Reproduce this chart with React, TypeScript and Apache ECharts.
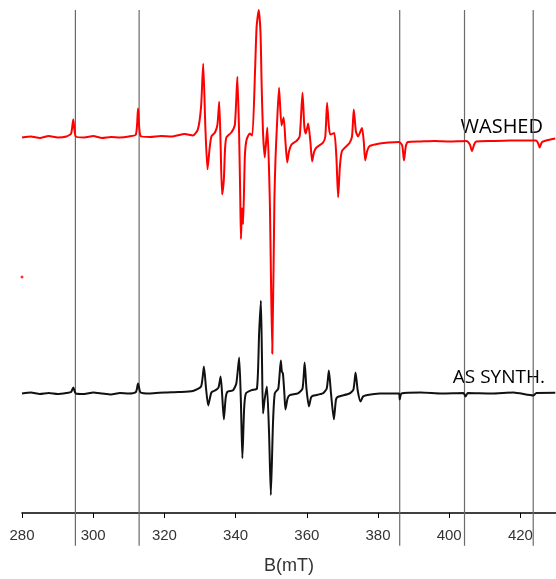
import React, { useEffect, useRef } from 'react';
import * as echarts from 'echarts';

// Magnetic field (mT) and signal (a.u.) of the WASHED sample
const washedField = [
  280.0, 282.5, 285.0, 287.5, 290.0, 292.5, 293.8, 294.4, 295.1, 297.5,
  300.0, 302.5, 305.0, 307.5, 310.0, 312.0, 312.6, 313.3, 316.0, 319.0,
  322.0, 325.7, 328.0, 329.4, 330.3, 330.9, 331.5, 332.1, 332.7, 333.2,
  334.2, 334.9, 335.4, 335.8, 336.2, 336.7, 337.0, 337.4, 338.8, 339.8,
  340.5, 341.0, 341.3, 341.5, 341.8, 342.1, 342.6, 343.1, 344.0, 344.7,
  345.5, 345.9, 346.5, 347.0, 347.3, 347.7, 348.2, 348.9, 349.6, 350.3,
  350.9, 351.2, 351.6, 352.2, 352.9, 353.5, 354.0, 354.5, 355.0, 355.7,
  357.1, 358.0, 358.8, 359.3, 359.7, 360.4, 361.0, 361.5, 362.0, 362.7,
  364.5, 365.2, 365.7, 366.2, 366.6, 367.7, 368.3, 368.8, 369.3, 369.9,
  372.0, 372.7, 373.2, 373.8, 374.4, 375.5, 376.0, 376.4, 377.0, 377.7,
  380.5, 383.0, 385.9, 386.8, 387.3, 387.8, 388.4, 392.0, 396.0, 400.0,
  404.8, 405.8, 406.4, 407.0, 407.6, 412.0, 418.0, 424.4, 425.0, 425.4,
  426.0, 426.8, 429.8,
];
const washedSignal = [
  -1, 0, -1.5, 0.5, -1, 0, 3, 17, 0, -1,
  0.5, -1.5, -0.5, -1, 0, 2, 28, 0.5, -0.5, 0.5,
  0, 2.5, 1, 7, 30, 73, 10, -33, -12, 0,
  4, 12, 35, -10, -58, -43, -15, -1, 4, 12,
  60, 0, -60, -103, -72, -88, -20, -3, 3, 1,
  70, 110, 127, 104, 54, 4, -21, 9, -63, -218,
  -63, -23, 10, 49, 11, 19, -5, -26, -15, -8,
  -4.5, 0, 44, 10, 3, 13, -5, -25, -16, -11,
  -6.5, 0, 34, 10, 2, 3.5, -20, -61, -30, -14.5,
  -6.5, 0, 27, 5, 0, 8.5, -5, -24, -14, -9.5,
  -7, -6, -5.5, -9, -24, -10, -5.5, -5, -4.5, -5,
  -4.5, -8, -14.5, -8, -5, -4.5, -4, -4, -7, -11,
  -6, -4.5, -2,
];

// Magnetic field (mT) and signal (a.u.) of the AS SYNTH. sample
const synthField = [
  280.0, 282.5, 285.0, 287.5, 290.0, 292.5, 293.8, 294.4, 295.1, 297.5,
  300.0, 302.5, 305.0, 307.5, 310.0, 312.0, 312.6, 313.3, 316.0, 320.0,
  324.0, 328.0, 330.3, 331.1, 331.7, 332.3, 333.2, 334.4, 335.2, 335.8,
  336.2, 336.7, 337.2, 337.7, 339.3, 340.2, 341.0, 341.5, 341.9, 342.4,
  342.9, 344.5, 346.0, 346.6, 347.1, 347.4, 347.7, 348.2, 348.8, 349.4,
  349.9, 350.5, 351.0, 352.0, 352.7, 353.0, 353.3, 353.7, 354.0, 354.6,
  355.2, 357.5, 358.8, 359.4, 359.9, 360.6, 361.2, 361.7, 364.5, 365.6,
  366.2, 366.8, 367.6, 368.2, 368.8, 372.0, 373.1, 373.7, 374.3, 375.1,
  375.8, 376.7, 380.5, 385.9, 386.1, 386.6, 392.0, 398.0, 404.0, 404.6,
  405.2, 412.0, 418.0, 423.7, 424.5, 429.8,
];
const synthSignal = [
  0, 1, -0.5, 0.5, -0.5, 0.5, 1.5, 6, 0, -0.5,
  1, 0, -1, 0.5, 0, 1.5, 10, 1, 0, 1,
  1.5, 2.5, 7, 27, 5, -12, 1, 3.3, 6, 17,
  0, -26, -5, 1.7, 3.3, 10, 36, -10, -65, -15,
  0, 3.3, 5, 60, 93, 37, -20, -5, 7, -40,
  -102, -30, 0, 5, 33, 22, 20, 0, -16, -5,
  -1.7, 0, 5, 31, 5, -13, -4, -2.3, 0, 5,
  23, 0, -26, -6, -3.3, 0, 4, 21, 3, -8,
  -3, -1.7, 0, 0, -6, 0, 1, 0, 0.5, -3,
  0.5, 0, 1, -2, 0.5, 0.7,
];

const washedOffset = 0;
const synthOffset = -258;
const markerFields = [295.0, 312.9, 386.1, 404.3, 423.6];
const strayPoint = [280, -141];
const xTicks = { min: 280, max: 430, step: 20 };

export default function App() {
  const ref = useRef<HTMLDivElement>(null);
  useEffect(() => {
    const chart = echarts.init(ref.current as HTMLDivElement, null, { renderer: 'svg' });
    const pairs = (xs: number[], ys: number[], off: number) => xs.map((x, i) => [x, ys[i] + off]);
    chart.setOption({
      animation: false,
      grid: { left: 22, right: 0, top: 10, bottom: 64 },
      xAxis: {
        type: 'value',
        min: xTicks.min,
        max: xTicks.max,
        interval: xTicks.step,
        axisLine: { onZero: false, lineStyle: { color: '#000', width: 1.5 } },
        axisTick: { length: 5, lineStyle: { color: '#000', width: 1 } },
        axisLabel: {
          margin: 14,
          fontSize: 15,
          color: '#333',
          fontFamily: 'Liberation Sans',
          showMaxLabel: false,
          formatter: (v: number) => (v % xTicks.step === 0 && v < xTicks.max ? String(v) : ''),
        },
        splitLine: { show: false },
        name: 'B(mT)',
        nameLocation: 'middle',
        nameGap: 43,
        nameTextStyle: { fontSize: 18, fontFamily: 'Liberation Sans', color: '#333' },
      },
      yAxis: { type: 'value', min: -378, max: 127, show: false },
      series: [
        ...markerFields.map((b) => ({
          type: 'line',
          data: [[b, -411], [b, 127]],
          clip: false,
          symbol: 'none',
          silent: true,
          lineStyle: { color: '#6a6a6a', width: 1.2 },
        })),
        {
          type: 'line',
          name: 'AS SYNTH.',
          data: pairs(synthField, synthSignal, synthOffset),
          symbol: 'none',
          smooth: 0.2,
          lineStyle: { color: '#111', width: 2 },
        },
        {
          type: 'line',
          name: 'WASHED',
          data: pairs(washedField, washedSignal, washedOffset),
          symbol: 'none',
          smooth: 0.2,
          lineStyle: { color: '#ff0000', width: 2 },
        },
        {
          type: 'scatter',
          data: [strayPoint],
          symbolSize: 3,
          itemStyle: { color: '#ff0000' },
        },
      ],
      graphic: [
        {
          type: 'text',
          x: 543,
          y: 125,
          style: { text: 'WASHED', fontSize: 20, fontFamily: 'Open Sans', fill: '#000', align: 'right', verticalAlign: 'middle' },
        },
        {
          type: 'text',
          x: 545,
          y: 376,
          style: { text: 'AS SYNTH.', fontSize: 19, fontFamily: 'Open Sans', fill: '#000', align: 'right', verticalAlign: 'middle' },
        },
      ],
    });
    return () => chart.dispose();
  }, []);
  return <div ref={ref} style={{ position: 'fixed', left: 0, top: 0, width: 556, height: 579 }} />;
}
